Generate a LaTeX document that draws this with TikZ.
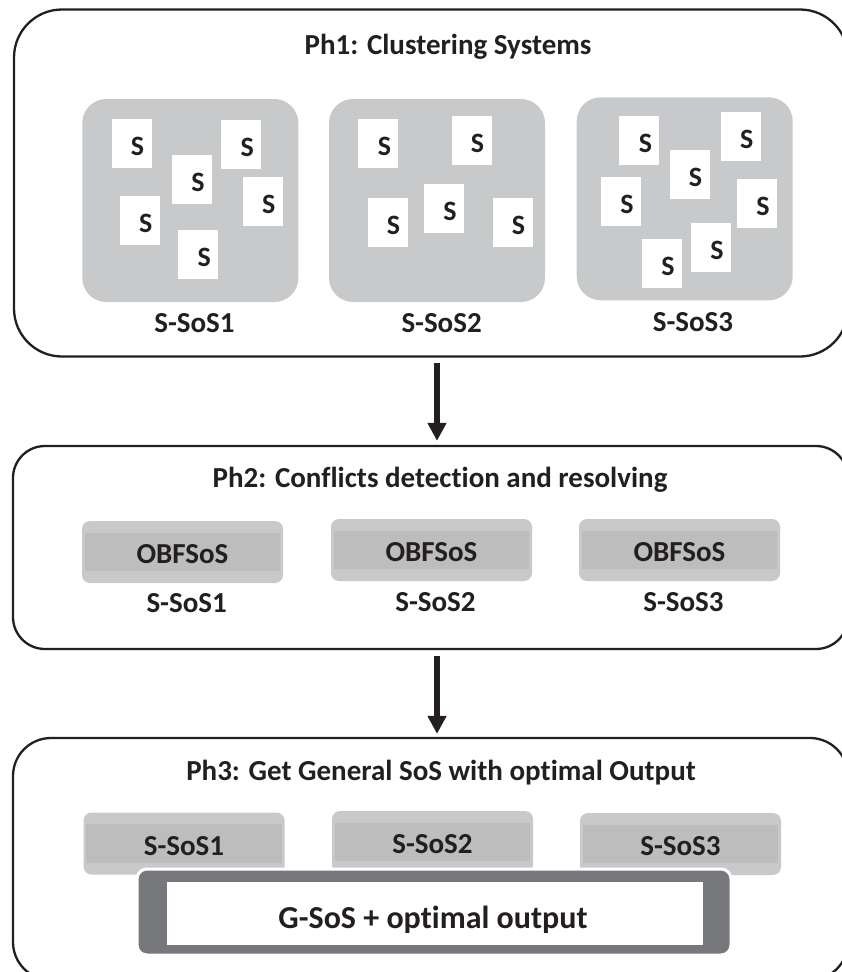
\documentclass[tikz,border=0pt]{standalone}
\usepackage{fontspec}
\setmainfont{Carlito}[Ligatures={NoCommon}]
\usetikzlibrary{arrows.meta}
\definecolor{inkblk}{HTML}{231F20}
\definecolor{grpgray}{HTML}{C8C9CB}
\definecolor{bandgray}{HTML}{BDBDBE}
\definecolor{framegray}{HTML}{77787B}
\tikzset{
    phase/.style={draw=inkblk, line width=2.3pt, inner sep=0pt},
    grp/.style={fill=grpgray, rounded corners=24pt, minimum width=216pt, minimum height=203pt, inner sep=0pt},
    sysbox/.style={fill=white, minimum width=40pt, minimum height=49pt, inner sep=0pt, label={[slet]center:S}},
    slet/.style={font=\fontsize{28}{32}\selectfont\bfseries, text=inkblk, inner sep=0pt, xshift=6pt, yshift=-3pt},
    tagbox/.style={fill=grpgray, rounded corners=8pt, minimum width=201pt, minimum height=62pt, inner sep=0pt},
    txt/.style={font=\fontsize{29}{34}\selectfont\bfseries, text=inkblk, inner sep=0pt, anchor=base},
    flow/.style={draw=inkblk, line width=6pt, -{Triangle[length=18pt,width=18pt]}},
}
\newcommand{\tagged}[5]{
    \node[tagbox] (#1) at (#2,#3) {};
    \fill[bandgray] ([xshift=3pt,yshift=-12pt]#1.north west) rectangle ([xshift=-3pt,yshift=12pt]#1.south east);
    \node[txt] (#1t) at (#2,#4) {#5};
}

\begin{document}
\begin{tikzpicture}[x=1pt,y=-1pt]
    \useasboundingbox (0,0) rectangle (842,972);

    % Ph1
    \node[phase, rounded corners=48pt, minimum width=834pt, minimum height=347pt] (ph1) at (431,183) {};
    \node[txt] (ttl1) at (448,54) {Ph1: Clustering Systems};
    \node[grp] (g1) at (190.3,200.5) {};
    \node[grp] (g2) at (437,200.5) {};
    \node[grp] (g3) at (684.7,198.8) {};
    \foreach \n/\x/\y in {a1/131.6/143.3, a2/241.2/144.3, a3/192/179.1, a4/262.7/201.6, a5/139.8/220.1, a6/198.2/254.9,
        b1/378.4/143.3, b2/471.5/140.5, b3/387.6/222.1, b4/443.9/208.8, b5/512.5/222.1,
        c1/639.4/140.5, c2/740.8/136.1, c3/689.6/174, c4/621/201.6, c5/757.1/203.7, c6/711.1/247.7, c7/661.9/263.1}
        \node[sysbox] (\n) at (\x,\y) {};
    \node[txt] (g1t) at (194.5,332) {S-SoS1};
    \node[txt] (g2t) at (441.6,332) {S-SoS2};
    \node[txt] (g3t) at (693,331) {S-SoS3};

    % Ph2
    \node[phase, rounded corners=32pt, minimum width=835pt, minimum height=203pt] (ph2) at (430.5,547.5) {};
    \node[txt] (ttl2) at (440,487) {Ph2: Conflicts detection and resolving};
    \tagged{o1}{182.5}{552}{563}{OBFSoS}
    \tagged{o2}{431.5}{550}{561}{OBFSoS}
    \tagged{o3}{679.5}{550}{561}{OBFSoS}
    \node[txt] (o1s) at (186.7,612.7) {S-SoS1};
    \node[txt] (o2s) at (435.5,611) {S-SoS2};
    \node[txt] (o3s) at (683.5,611) {S-SoS3};

    % Ph3
    \node[phase, rounded corners=38pt, minimum width=835pt, minimum height=242pt] (ph3) at (430.5,859) {};
    \node[txt] (ttl3) at (441,780) {Ph3: Get General SoS with optimal Output};
    \tagged{s1}{184}{843.5}{855}{S-SoS1}
    \tagged{s2}{432.5}{842}{853.5}{S-SoS2}
    \tagged{s3}{680.5}{844}{855}{S-SoS3}
    \node[fill=framegray, draw=white, line width=3pt, rounded corners=10pt, minimum width=594pt, minimum height=86pt] (gfr) at (434,912) {};
    \node[fill=white, minimum width=536pt, minimum height=63pt, inner sep=0pt] (gbox) at (435,913.5) {};
    \node[txt, font=\fontsize{32}{36}\selectfont\bfseries] (gtxt) at (433,928) {G-SoS + optimal output};

    \draw[flow, shorten <=5pt, shorten >=4pt] (ph1.south -| g2.center) -- (ph2.north -| g2.center);
    \draw[flow, shorten <=6pt, shorten >=3pt] (ph2.south -| g2.center) -- (ph3.north -| g2.center);
\end{tikzpicture}
\end{document}
